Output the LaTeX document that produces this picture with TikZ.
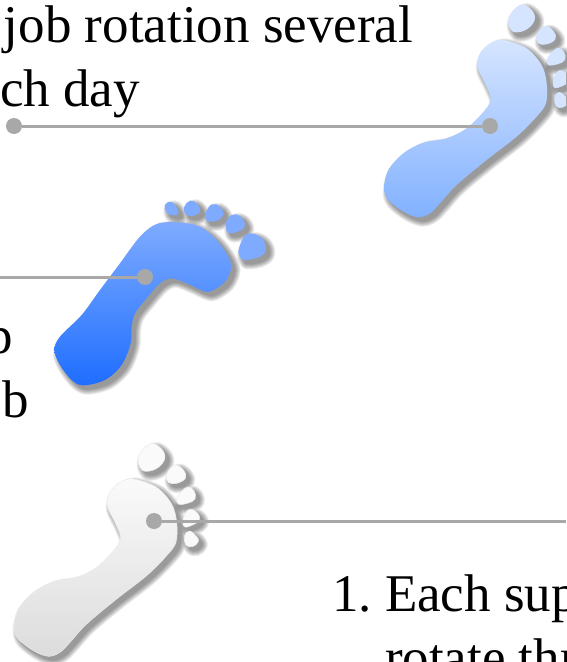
\documentclass[tikz,border=0pt]{standalone}
\usepackage{fontspec}
\setmainfont{Liberation Serif}
\definecolor{linegray}{HTML}{A8A8A8}
\definecolor{lblue}{HTML}{D6E5FF}
\definecolor{lbluem}{HTML}{BCD5FF}
\definecolor{lblueb}{HTML}{82B1FF}
\definecolor{mblue}{HTML}{7EABFF}
\definecolor{mbluem}{HTML}{6A9FFF}
\definecolor{mblueb}{HTML}{1F6EFF}
\definecolor{gtop}{HTML}{FAFAFA}
\definecolor{gmid}{HTML}{F0F0F0}
\definecolor{gbot}{HTML}{DCDCDC}
\newcommand{\bodyA}{plot[smooth cycle,tension=.55] coordinates {(430,120)(500,145)(545,195)(560,250)(558,310)(530,350)(470,410)(380,480)(290,555)(240,610)(210,640)(175,652)(130,635)(85,600)(72,565)(85,510)(130,460)(190,428)(260,415)(320,385)(375,330)(392,295)(375,250)(352,200)(360,160)(390,130)}}
\newcommand{\toesA}{plot[smooth cycle,tension=.7] coordinates {(447,50)(480,15)(510,25)(525,55)(505,85)(470,97)(450,85)}
 plot[smooth cycle,tension=.7] coordinates {(530,105)(555,78)(582,95)(586,118)(560,133)(535,130)}
 plot[smooth cycle,tension=.7] coordinates {(562,175)(590,145)(612,155)(615,180)(592,193)(565,195)}
 plot[smooth cycle,tension=.7] coordinates {(580,238)(598,211)(623,223)(628,243)(608,258)(583,263)}
 plot[smooth cycle,tension=.7] coordinates {(583,293)(598,276)(620,293)(625,308)(608,323)(588,318)}}
\newcommand{\bodyB}{plot[smooth cycle,tension=.55] coordinates {(415,97)(480,110)(530,150)(565,200)(573,235)(555,275)(515,303)(490,303)(440,280)(395,265)(360,280)(320,325)(285,370)(275,410)(272,460)(245,525)(195,570)(130,586)(95,570)(60,525)(43,480)(60,440)(125,375)(180,300)(240,220)(300,140)(350,102)}}
\newcommand{\toesB}{plot[smooth cycle,tension=.7] coordinates {(375,45)(390,35)(405,45)(415,70)(395,75)(378,65)}
 plot[smooth cycle,tension=.7] coordinates {(433,50)(450,32)(470,40)(480,65)(455,78)(435,70)}
 plot[smooth cycle,tension=.7] coordinates {(497,70)(515,43)(540,50)(550,75)(530,92)(500,92)}
 plot[smooth cycle,tension=.7] coordinates {(558,100)(575,75)(600,78)(615,105)(600,122)(565,128)}
 plot[smooth cycle,tension=.7] coordinates {(597,175)(620,133)(660,140)(678,175)(660,200)(615,210)(600,200)}}
\newcommand{\softshadow}[1]{%
  \foreach \w in {11,9.5,8,6.5,5,3.5,2,.5}{%
    \begin{scope}[transparency group,opacity=.06]
    \path[xshift=4pt,yshift=-4pt,fill=black,draw=black,line width=\w pt,line join=round] #1;
    \end{scope}}}
\tikzset{
  label text/.style={anchor=base west,inner sep=0pt,outer sep=0pt,font=\fontsize{53}{53}\selectfont,text=black},
  dotmark/.style={circle,fill=linegray,minimum size=16pt,inner sep=0pt,outer sep=0pt},
  link/.style={draw=linegray,line width=3pt},
  foot/.style={x=.3333pt,y=-.3333pt}
}
\begin{document}
\begin{tikzpicture}[x=1pt,y=-1pt]
\clip (0,0) rectangle (566,662);
\fill[white] (0,0) rectangle (566,662);
% light blue foot
\begin{scope}[foot,xshift=360pt]
  \softshadow{\bodyA}
  \softshadow{\toesA}
  \path[top color=lblue,middle color=lbluem,bottom color=lblueb] \bodyA;
  \fill[lblue] \toesA;
\end{scope}
% mid blue foot
\begin{scope}[foot,xshift=40pt,yshift=-190pt]
  \softshadow{\bodyB}
  \softshadow{\toesB}
  \path[top color=mblue,middle color=mbluem,bottom color=mblueb] \bodyB;
  \fill[mblue] \toesB;
\end{scope}
% grey foot
\begin{scope}[foot,xshift=-10pt,yshift=-439pt]
  \softshadow{\bodyA}
  \softshadow{\toesA}
  \path[draw=black!8,line width=.5pt,top color=gtop,middle color=gmid,bottom color=gbot] \bodyA;
  \path[draw=black!8,line width=.5pt,fill=gtop] \toesA;
\end{scope}
% texts
\node[label text] (t1) at (4,42) {job rotation several};
\node[label text] (t2) at (0,106) {ch day};
\node[label text] (t3) at (-13,353) {p};
\node[label text] (t4) at (-24,417) {ob};
\node[label text] (t5) at (332,611) {1.};
\node[label text] (t7) at (385,611) {Each sup};
\node[label text] (t6) at (385,675) {rotate thr};
% connectors
\node[dotmark] (d1a) at (14,126) {};
\node[dotmark] (d1b) at (490,126) {};
\node[dotmark] (d2) at (145,277) {};
\node[dotmark] (d3) at (154,521) {};
\coordinate (e2) at (0,277);
\coordinate (e3) at (566,521);
\draw[link] (d1a) -- (d1b);
\draw[link] (e2) -- (d2);
\draw[link] (d3) -- (e3);
\end{tikzpicture}
\end{document}
